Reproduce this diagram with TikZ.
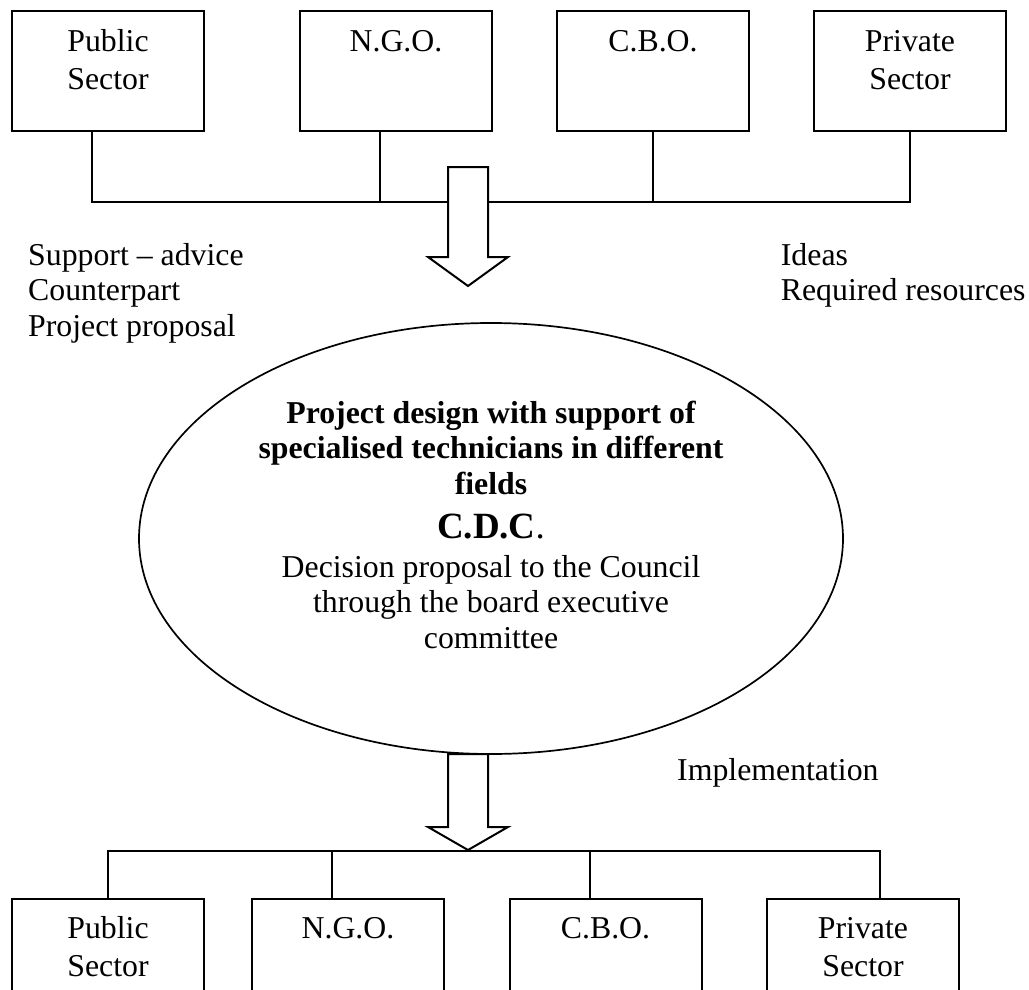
\documentclass[tikz,border=0pt]{standalone}
\usepackage{fontspec}
\setmainfont{Liberation Serif}
\usetikzlibrary{shapes.geometric}
\newcommand{\txtsize}{\fontsize{31.8}{35.75}\selectfont}
\newcommand{\boxsize}{\fontsize{31.8}{37.5}\selectfont}
\newcommand{\stackc}[1]{\begin{tabular}[t]{@{}c@{}}#1\end{tabular}}
\newcommand{\stackl}[1]{\begin{tabular}[t]{@{}l@{}}#1\end{tabular}}
\begin{document}
\begin{tikzpicture}[x=1pt,y=-1pt,
  orgbox/.style={draw,line width=2pt,minimum width=192pt,minimum height=120pt,inner sep=0pt},
  txt/.style={inner sep=0pt,anchor=base,font=\txtsize},
  boxtxt/.style={inner sep=0pt,anchor=base,font=\boxsize},
  conn/.style={line width=2pt,line join=miter},
  bigarrow/.style={draw,fill=white,line width=2pt,line join=miter}]
\useasboundingbox (0,0) rectangle (1029,990);
\clip (0,0) rectangle (1029,990);

% top row of boxes
\node[orgbox] (pubT) at (108,71) {};
\node[orgbox] (ngoT) at (396,71) {};
\node[orgbox] (cboT) at (653,71) {};
\node[orgbox] (priT) at (910,71) {};
\node[boxtxt] (pubTt) at (108,52) {\stackc{Public\\Sector}};
\node[boxtxt] (ngoTt) at (396,52) {N.G.O.};
\node[boxtxt] (cboTt) at (653,52) {C.B.O.};
\node[boxtxt] (priTt) at (910,52) {\stackc{Private\\Sector}};

% top bus
\coordinate (busTL) at (92,202);
\coordinate (busTR) at (910,202);
\draw[conn] ([xshift=-16pt]pubT.south) -- (busTL) -- (busTR) -- (priT.south);
\draw[conn] ([xshift=-16pt]ngoT.south) -- ([xshift=-16pt]ngoT.south |- busTL);
\draw[conn] (cboT.south) -- (cboT.south |- busTL);

% top block arrow
\draw[bigarrow] (448,167) -- (488,167) -- (488,257) -- (508,257) -- (468,286)
  -- (428,257) -- (448,257) -- cycle;

% side texts
\node[txt,anchor=base west] (lefttxt) at (28,265) {\stackl{Support – advice\\Counterpart\\Project proposal}};
\node[txt,anchor=base west] (righttxt) at (780.7,265) {\stackl{Ideas\\Required resources}};

% central ellipse
\node[draw,ellipse,line width=1.7pt,minimum width=704pt,minimum height=431pt,inner sep=0pt] (cdc) at (491,538.5) {};
\node[txt,font=\txtsize\bfseries] (design) at (491,423) {\stackc{Project design with support of\\specialised technicians in different\\fields}};
\node[txt] (cdcname) at (491,538) {\fontsize{37}{40}\selectfont\textbf{C.D.C}.};
\node[txt] (decision) at (491,577) {\stackc{Decision proposal to the Council\\through the board executive\\committee}};

% bottom block arrow
\draw[bigarrow] (448,754) -- (488,754) -- (488,827) -- (508,827) -- (468,850)
  -- (428,827) -- (448,827) -- cycle;
\node[txt,anchor=base west] (impl) at (677,780) {Implementation};

% bottom row of boxes
\node[orgbox] (pubB) at (108,959) {};
\node[orgbox] (ngoB) at (348,959) {};
\node[orgbox] (cboB) at (605.5,959) {};
\node[orgbox] (priB) at (863,959) {};
\node[boxtxt] (pubBt) at (108,938.5) {\stackc{Public\\Sector}};
\node[boxtxt] (ngoBt) at (348,938.5) {N.G.O.};
\node[boxtxt] (cboBt) at (605.5,938.5) {C.B.O.};
\node[boxtxt] (priBt) at (863,938.5) {\stackc{Private\\Sector}};

% bottom bus
\coordinate (busBL) at (108,851);
\coordinate (busBR) at (880,851);
\draw[conn] (pubB.north) -- (busBL) -- (busBR) -- ([xshift=17pt]priB.north);
\draw[conn] ([xshift=-16pt]ngoB.north) -- ([xshift=-16pt]ngoB.north |- busBL);
\draw[conn] ([xshift=-16pt]cboB.north) -- ([xshift=-16pt]cboB.north |- busBL);
\end{tikzpicture}
\end{document}
